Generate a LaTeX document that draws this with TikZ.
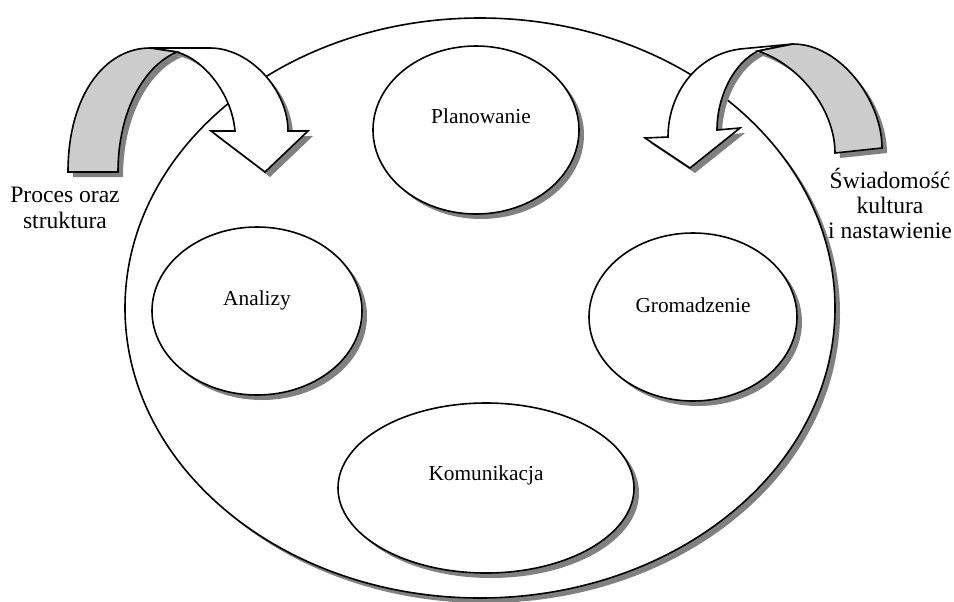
\documentclass[tikz,border=0pt]{standalone}
\usepackage{fontspec}
\setmainfont{Liberation Serif}
\usetikzlibrary{shapes.geometric,shadows}
\definecolor{shadowgray}{HTML}{808080}
\definecolor{facegray}{HTML}{CCCCCC}
\tikzset{
  bub/.style={ellipse, draw=black, line width=1.2pt, fill=white, inner sep=0pt,
    drop shadow={shadow xshift=3.75pt, shadow yshift=-3.75pt, fill=shadowgray, opacity=1}},
  lbl/.style={font=\fontsize{16}{19}\selectfont, inner sep=0pt, anchor=base},
  side/.style={font=\fontsize{17.7}{19.1}\selectfont, align=center, inner sep=0pt},
  frontface/.style={fill=white, draw=black, line width=1.2pt, line join=miter},
  backface/.style={fill=facegray, draw=black, line width=1.2pt, line join=miter},
  shadowface/.style={fill=shadowgray, draw=none}
}
\def\pathLW{(150,48) -- (210,48) .. controls (250,48) and (288,90) .. (288,131) -- (308,131) -- (265,172) -- (211,131) -- (235,131) .. controls (232,95) and (205,60) .. (177,52) -- cycle}
\def\pathLG{(68,172) .. controls (68,95) and (105,48) .. (150,48) -- (177,52) .. controls (145,65) and (118,110) .. (118,172) -- cycle}
\def\pathRW{(793,44) -- (740,49) .. controls (695,55) and (668,95) .. (668,137) -- (645,138) -- (690,168) -- (740,128) -- (717,130) .. controls (717,95) and (735,62) .. (758,51) -- cycle}
\def\pathRG{(758,51) -- (793,44) .. controls (840,44) and (882,100) .. (882,148) -- (835,153) .. controls (835,110) and (800,65) .. (758,51) -- cycle}
\begin{document}
\begin{tikzpicture}[x=0.75pt,y=-0.75pt]
\useasboundingbox (0,0) rectangle (954,601);
\fill[white] (0,0) rectangle (954,601);
% outer ellipse
\node[bub, minimum width=532.5pt, minimum height=435pt] (outer) at (480,308) {};
% inner ellipses
\node[bub, minimum width=154.5pt, minimum height=126pt] (plan) at (476,130) {};
\node[bub, minimum width=157.5pt, minimum height=126pt] (anal) at (257,311) {};
\node[bub, minimum width=156pt, minimum height=126pt] (grom) at (693,317) {};
\node[bub, minimum width=222pt, minimum height=127.5pt] (komu) at (486,488) {};
% labels in ellipses
\node[lbl] (tplan) at (481,123) {Planowanie};
\node[lbl] (tanal) at (257,305) {Analizy};
\node[lbl] (tgrom) at (693,312) {Gromadzenie};
\node[lbl] (tkomu) at (486,480) {Komunikacja};
% curved arrows: shadows
\begin{scope}[shift={(5,5)}]
  \path[shadowface] \pathLW;
  \path[shadowface] \pathLG;
  \path[shadowface] \pathRW;
  \path[shadowface] \pathRG;
\end{scope}
% curved arrows: faces
\path[frontface] \pathLW;
\path[backface] \pathLG;
\path[frontface] \pathRW;
\path[backface] \pathRG;
% side labels
\node[side] (proc) at (65,208) {Proces oraz\\struktura};
\node[side] (swiad) at (890,203.5) {Świadomość\\kultura\\i nastawienie};
\end{tikzpicture}
\end{document}
